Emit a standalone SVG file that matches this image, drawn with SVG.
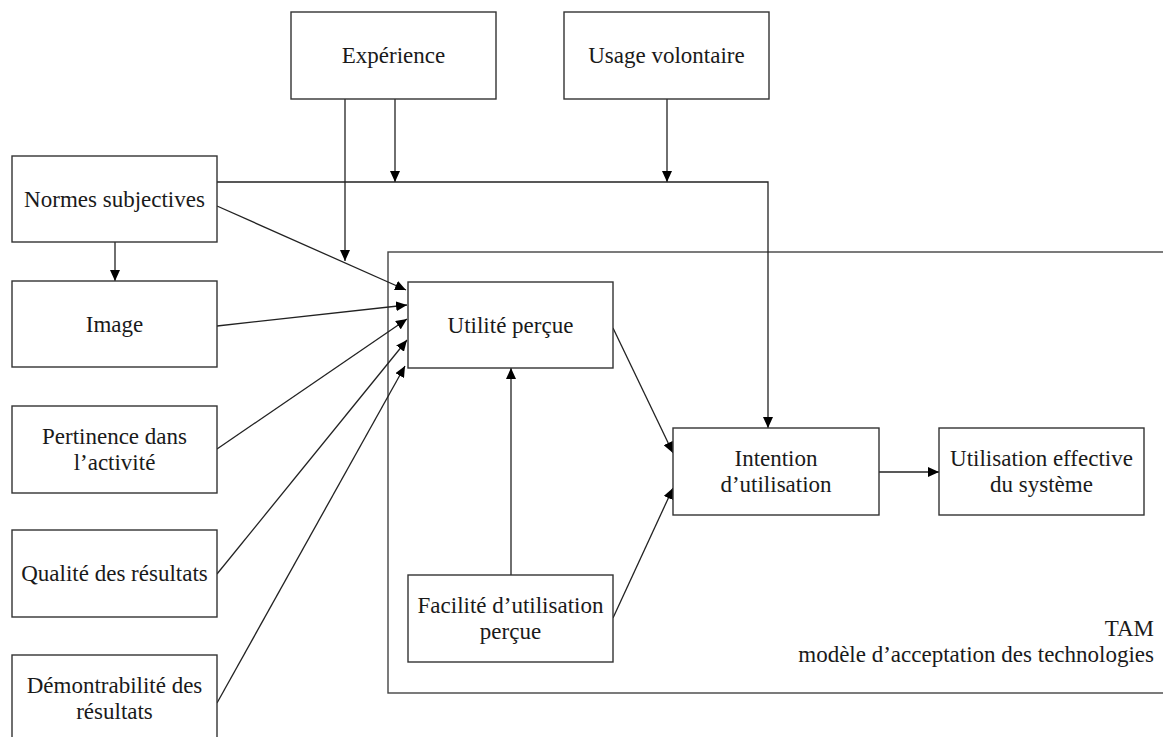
<svg xmlns="http://www.w3.org/2000/svg" width="1163" height="737" viewBox="0 0 1163 737">
<style>
.box{fill:#fff;stroke:#333;stroke-width:1.4}
.frame{fill:none;stroke:#444;stroke-width:1.4}
.lbl{font-family:"Liberation Serif","Times New Roman",serif;font-size:23px;fill:#1a1a1a;text-anchor:middle}
.end{text-anchor:end}
.edge{fill:none;stroke:#222;stroke-width:1.3}
</style>
<defs>
<marker id="ah" markerUnits="userSpaceOnUse" markerWidth="11" markerHeight="10" refX="11" refY="5" orient="auto">
<path d="M0,0 L11,5 L0,10 z" fill="#000"/>
</marker>
</defs>
<rect id="tam-frame" class="frame" x="388" y="252" width="800" height="441"/>
<g id="connectors">
<path class="edge" d="M217,206 L406,290" marker-end="url(#ah)"/>
<path class="edge" d="M345,99 L345,261" marker-end="url(#ah)"/>
<path class="edge" d="M395,99 L395,182" marker-end="url(#ah)"/>
<path class="edge" d="M667,99 L667,182" marker-end="url(#ah)"/>
<path class="edge" d="M217,182 L768,182 L768,428" marker-end="url(#ah)"/>
<path class="edge" d="M115,242 L115,281" marker-end="url(#ah)"/>
<path class="edge" d="M217,326 L407,305" marker-end="url(#ah)"/>
<path class="edge" d="M217,449 L407,319" marker-end="url(#ah)"/>
<path class="edge" d="M217,574 L407,340" marker-end="url(#ah)"/>
<path class="edge" d="M217,703 L405,366" marker-end="url(#ah)"/>
<path class="edge" d="M511,575 L511,368" marker-end="url(#ah)"/>
<path class="edge" d="M613,328 L673,453" marker-end="url(#ah)"/>
<path class="edge" d="M613,618 L673,488" marker-end="url(#ah)"/>
<path class="edge" d="M879,472 L939,472" marker-end="url(#ah)"/>
</g>
<g id="experience"><rect class="box" x="291" y="12" width="205" height="87"/><text class="lbl" x="393.5" y="63">Expérience</text></g>
<g id="usage-volontaire"><rect class="box" x="564" y="12" width="205" height="87"/><text class="lbl" x="666.5" y="63">Usage volontaire</text></g>
<g id="normes-subjectives"><rect class="box" x="12" y="156" width="205" height="86"/><text class="lbl" x="114.5" y="206.5">Normes subjectives</text></g>
<g id="image"><rect class="box" x="12" y="281" width="205" height="86"/><text class="lbl" x="114.5" y="331.5">Image</text></g>
<g id="pertinence"><rect class="box" x="12" y="406" width="205" height="87"/><text class="lbl" x="114.5" y="444">Pertinence dans</text><text class="lbl" x="114.5" y="470">l’activité</text></g>
<g id="qualite"><rect class="box" x="12" y="530" width="205" height="87"/><text class="lbl" x="114.5" y="581">Qualité des résultats</text></g>
<g id="demontrabilite"><rect class="box" x="12" y="655" width="205" height="86"/><text class="lbl" x="114.5" y="692.5">Démontrabilité des</text><text class="lbl" x="114.5" y="718.5">résultats</text></g>
<g id="utilite-percue"><rect class="box" x="408" y="282" width="205" height="86"/><text class="lbl" x="510.5" y="332.5">Utilité perçue</text></g>
<g id="facilite"><rect class="box" x="408" y="575" width="205" height="87"/><text class="lbl" x="510.5" y="613">Facilité d’utilisation</text><text class="lbl" x="510.5" y="639">perçue</text></g>
<g id="intention"><rect class="box" x="673" y="428" width="206" height="87"/><text class="lbl" x="776" y="466">Intention</text><text class="lbl" x="776" y="492">d’utilisation</text></g>
<g id="utilisation-effective"><rect class="box" x="939" y="428" width="205" height="87"/><text class="lbl" x="1041.5" y="466">Utilisation effective</text><text class="lbl" x="1041.5" y="492">du système</text></g>
<g id="tam-label"><text class="lbl end" x="1154" y="636">TAM</text><text class="lbl end" x="1154" y="662">modèle d’acceptation des technologies</text></g>
</svg>
